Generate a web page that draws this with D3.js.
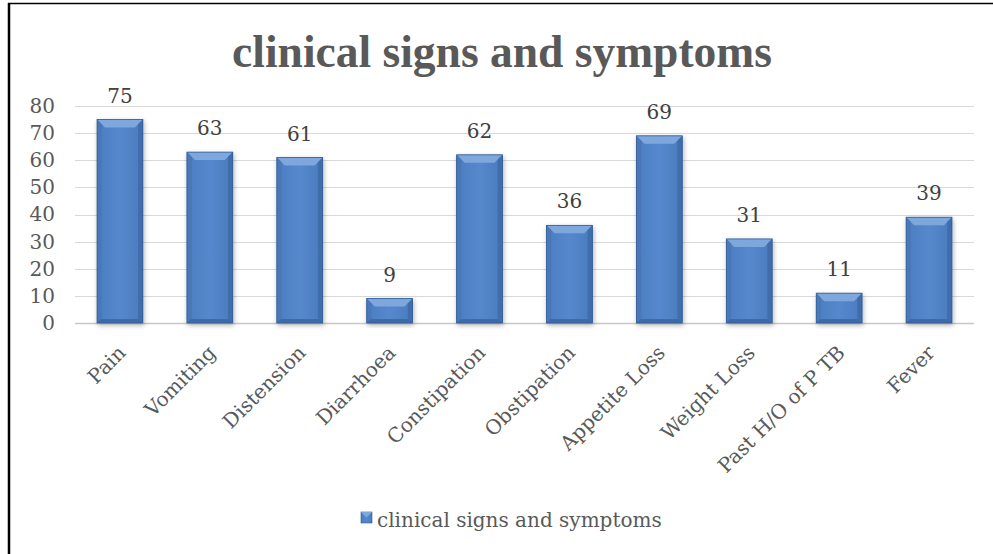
<!DOCTYPE html>
<html>
<head>
<meta charset="utf-8">
<script src="https://cdn.jsdelivr.net/npm/d3@7"></script>
<style>
  body { margin: 0; background: #fff; overflow: hidden; }
  text { font-family: "DejaVu Serif", "Liberation Serif", serif; }
</style>
</head>
<body>
<div id="chart"></div>
<script>
var categories = ["Pain", "Vomiting", "Distension", "Diarrhoea", "Constipation",
    "Obstipation", "Appetite Loss", "Weight Loss", "Past H/O of P TB", "Fever"];
var values = [75, 63, 61, 9, 62, 36, 69, 31, 11, 39];
var yTicks = [0, 10, 20, 30, 40, 50, 60, 70, 80];
var seriesName = "clinical signs and symptoms";
var chartTitle = "clinical signs and symptoms";

var W = 993, H = 554;
var margin = {top: 106, right: 19, bottom: 231, left: 75},
    width = W - margin.left - margin.right,
    height = H - margin.top - margin.bottom;

var svg = d3.select("#chart").append("svg")
    .attr("width", W)
    .attr("height", H)
    .style("display", "block");

// frame (only top and left edges are visible)
svg.append("line")
    .attr("x1", 8).attr("x2", W).attr("y1", 3.5).attr("y2", 3.5)
    .attr("stroke", "#000").attr("stroke-width", 1.5);
svg.append("line")
    .attr("x1", 9).attr("x2", 9).attr("y1", 3).attr("y2", H)
    .attr("stroke", "#000").attr("stroke-width", 2.5);

var defs = svg.append("defs");
var grad = defs.append("linearGradient").attr("id", "face")
    .attr("x1", "0").attr("x2", "1").attr("y1", "0").attr("y2", "0");
grad.append("stop").attr("offset", "0%").attr("stop-color", "#4b7dc1");
grad.append("stop").attr("offset", "50%").attr("stop-color", "#5688cd");
grad.append("stop").attr("offset", "100%").attr("stop-color", "#4a7bbd");

var shadow = defs.append("filter").attr("id", "shadow")
    .attr("x", "-20%").attr("y", "-20%").attr("width", "140%").attr("height", "140%");
shadow.append("feGaussianBlur").attr("in", "SourceAlpha").attr("stdDeviation", 2.5);
shadow.append("feOffset").attr("dx", 1).attr("dy", 2).attr("result", "blur");
shadow.append("feComponentTransfer").append("feFuncA").attr("type", "linear").attr("slope", 0.3);
var merge = shadow.append("feMerge");
merge.append("feMergeNode");
merge.append("feMergeNode").attr("in", "SourceGraphic");

// title
svg.append("text")
    .attr("x", 502)
    .attr("y", 67)
    .attr("text-anchor", "middle")
    .style("font-family", "'Liberation Serif', serif")
    .style("font-size", "45.5px")
    .style("font-weight", "bold")
    .style("fill", "#595959")
    .text(chartTitle);

var g = svg.append("g")
    .attr("transform", "translate(" + margin.left + "," + margin.top + ")");

var x = d3.scaleBand()
    .domain(categories)
    .range([0, width])
    .paddingInner(0.49)
    .paddingOuter(0.245);

var y = d3.scaleLinear()
    .domain([0, 80])
    .range([height, 0]);

// gridlines
g.selectAll(".grid")
    .data(yTicks)
    .enter().append("line")
    .attr("class", "grid")
    .attr("x1", 0)
    .attr("x2", width)
    .attr("y1", function (d) { return Math.round(y(d)) + 0.5; })
    .attr("y2", function (d) { return Math.round(y(d)) + 0.5; })
    .attr("stroke", function (d) { return d === 0 ? "#c8c8c8" : "#d9d9d9"; })
    .attr("stroke-width", function (d) { return d === 0 ? 1.5 : 1; });

// y axis labels
var yAxis = d3.axisLeft(y).tickValues(yTicks).tickSize(0).tickPadding(20);
var yg = g.append("g").call(yAxis);
yg.select(".domain").remove();
yg.selectAll("text")
    .style("font-size", "20px")
    .style("fill", "#595959");

// bars
var bars = g.selectAll(".bar")
    .data(values)
    .enter().append("g")
    .attr("class", "bar")
    .attr("filter", "url(#shadow)");

function bev(v) {
    var h = height - y(v);
    return Math.min(8, h / 2);
}

bars.append("rect")
    .attr("x", function (d, i) { return x(categories[i]); })
    .attr("y", function (d) { return y(d); })
    .attr("width", x.bandwidth())
    .attr("height", function (d) { return height - y(d); })
    .attr("fill", "url(#face)");

// top bevel
bars.append("path")
    .attr("d", function (d, i) {
        var x0 = x(categories[i]), w = x.bandwidth(), t = y(d), b = bev(d);
        return "M" + x0 + "," + t + "L" + (x0 + w) + "," + t + "L" + (x0 + w - b) + "," + (t + b) +
            "L" + (x0 + b) + "," + (t + b) + "Z";
    })
    .attr("fill", "#7ea8dd");

// left bevel
bars.append("path")
    .attr("d", function (d, i) {
        var x0 = x(categories[i]), t = y(d), bt = height, b = bev(d) * 0.6;
        return "M" + x0 + "," + t + "L" + (x0 + b) + "," + (t + b) + "L" + (x0 + b) + "," + (bt - b) +
            "L" + x0 + "," + bt + "Z";
    })
    .attr("fill", "#4877b8");

// right bevel
bars.append("path")
    .attr("d", function (d, i) {
        var x1 = x(categories[i]) + x.bandwidth(), t = y(d), bt = height, b = bev(d) * 0.6;
        return "M" + x1 + "," + t + "L" + (x1 - b) + "," + (t + b) + "L" + (x1 - b) + "," + (bt - b) +
            "L" + x1 + "," + bt + "Z";
    })
    .attr("fill", "#3f6dab");

// bottom bevel
bars.append("path")
    .attr("d", function (d, i) {
        var x0 = x(categories[i]), w = x.bandwidth(), bt = height, b = bev(d) * 0.5;
        return "M" + x0 + "," + bt + "L" + (x0 + w) + "," + bt + "L" + (x0 + w - b) + "," + (bt - b) +
            "L" + (x0 + b) + "," + (bt - b) + "Z";
    })
    .attr("fill", "#3e6ba8");

// thin dark outline
bars.append("rect")
    .attr("x", function (d, i) { return x(categories[i]); })
    .attr("y", function (d) { return y(d); })
    .attr("width", x.bandwidth())
    .attr("height", function (d) { return height - y(d); })
    .attr("fill", "none")
    .attr("stroke", "#2f5b93")
    .attr("stroke-width", 0.8);

// value labels
g.selectAll(".val")
    .data(values)
    .enter().append("text")
    .attr("class", "val")
    .attr("x", function (d, i) { return x(categories[i]) + x.bandwidth() / 2; })
    .attr("y", function (d) { return y(d) - 17; })
    .attr("text-anchor", "middle")
    .style("font-size", "20px")
    .style("fill", "#404040")
    .text(function (d) { return d; });

// category labels
var xAxis = d3.axisBottom(x).tickSize(0).tickPadding(0);
var xg = g.append("g")
    .attr("transform", "translate(0," + height + ")")
    .call(xAxis);
xg.select(".domain").remove();
xg.selectAll("text")
    .attr("y", 0)
    .attr("dy", 0)
    .attr("text-anchor", "end")
    .attr("transform", "translate(7,31) rotate(-45)")
    .style("font-size", "20px")
    .style("fill", "#595959");

// legend
var legend = svg.append("g")
    .attr("transform", "translate(361,512)");
legend.append("rect")
    .attr("width", 11).attr("height", 11)
    .attr("fill", "url(#face)")
    .attr("stroke", "#2f5b93").attr("stroke-width", 0.6);
legend.append("path")
    .attr("d", "M0,0L11,0L5.5,5.5Z")
    .attr("fill", "#7fa9dd");
legend.append("text")
    .attr("x", 16)
    .attr("y", 15)
    .style("font-size", "20px")
    .style("fill", "#595959")
    .text(seriesName);
</script>
</body>
</html>
